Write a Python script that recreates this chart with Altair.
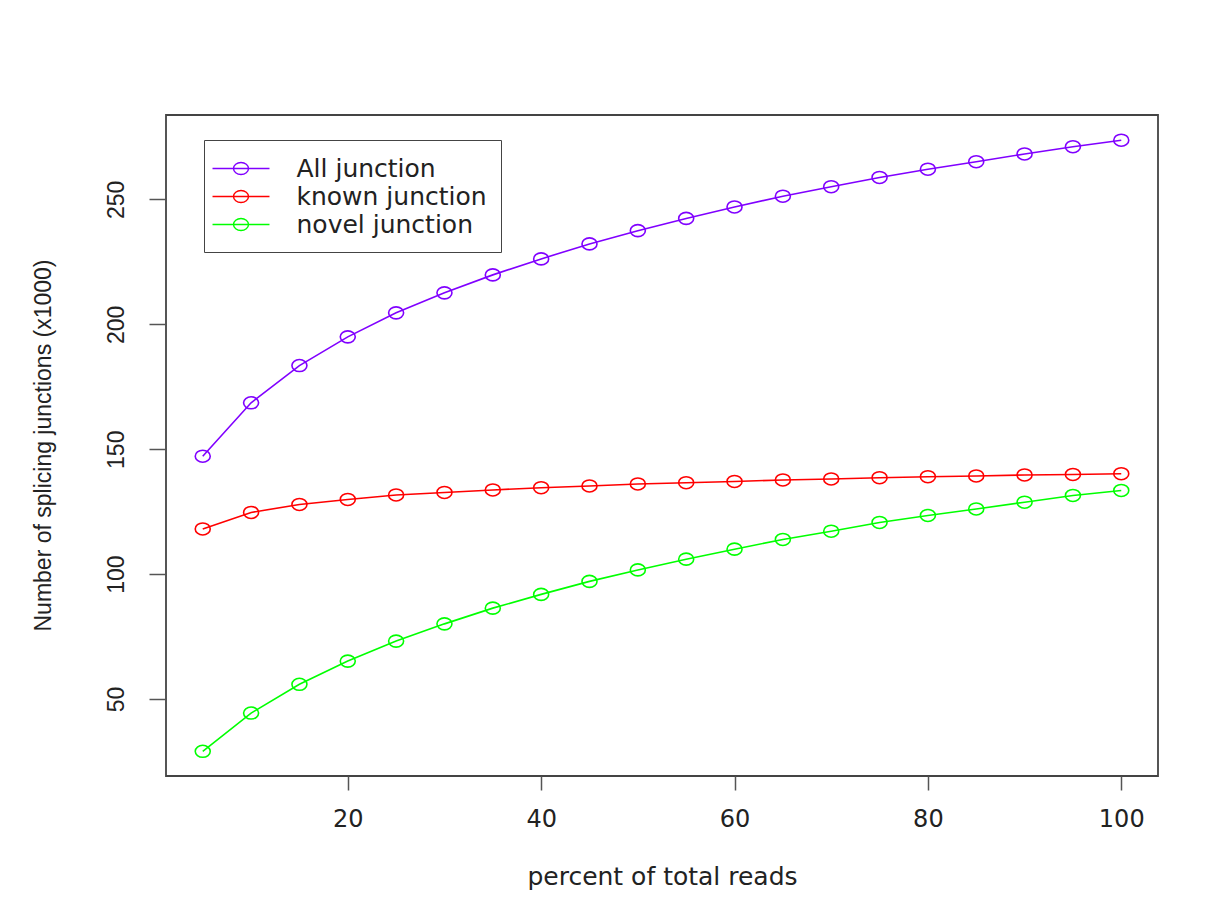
import altair as alt
import pandas as pd

# Data (values in thousands)
percent = [5, 10, 15, 20, 25, 30, 35, 40, 45, 50, 55, 60, 65, 70, 75, 80, 85, 90, 95, 100]
all_junction = [147.2, 168.6, 183.5, 195.0, 204.6, 212.6, 219.8, 226.2, 232.2, 237.5,
                 242.4, 247.0, 251.3, 255.1, 258.8, 262.1, 265.1, 268.2, 271.1, 273.7]
known_junction = [118.1, 124.7, 127.9, 129.9, 131.7, 132.7, 133.7, 134.6, 135.3, 136.1,
                   136.6, 137.1, 137.7, 138.1, 138.6, 139.0, 139.3, 139.7, 139.9, 140.2]
novel_junction = [29.1, 44.4, 55.9, 65.2, 73.2, 80.1, 86.4, 91.9, 97.1, 101.7,
                  106.0, 110.0, 113.9, 117.2, 120.7, 123.5, 126.1, 128.8, 131.5, 133.5]
series_names = ["All junction", "known junction", "novel junction"]
series_colors = ["#8000FF", "#FF0000", "#00FF00"]
x_ticks = [20, 40, 60, 80, 100]
y_ticks = [50, 100, 150, 200, 250]

rows = []
for name, vals in zip(series_names, [all_junction, known_junction, novel_junction]):
    for p, v in zip(percent, vals):
        rows.append({"percent": p, "value": v, "series": name})
df = pd.DataFrame(rows)

ellipse = "M -1.25 0 A 1.25 1 0 1 1 1.25 0 A 1.25 1 0 1 1 -1.25 0 Z"
legend_symbol = ("M -2.11 0 L 2.11 0 M -0.556 0 A 0.556 0.444 0 1 1 0.556 0 "
                 "A 0.556 0.444 0 1 1 -0.556 0 Z")

x_enc = alt.X("percent:Q",
              scale=alt.Scale(domain=[1.2, 103.8], nice=False, zero=False),
              axis=alt.Axis(values=x_ticks, title="percent of total reads",
                            domain=False, grid=False, tickSize=14, tickWidth=1.5,
                            tickColor="#555555", labelFont="DejaVu Sans",
                            labelFontSize=24, labelColor="#222222", labelPadding=17,
                            labelFlush=False,
                            titleFont="DejaVu Sans", titleFontSize=25,
                            titleFontWeight="normal", titleColor="#222222",
                            titleBaseline="middle", titleY=100))
y_enc = alt.Y("value:Q",
              scale=alt.Scale(domain=[19.2, 283.8], nice=False, zero=False),
              axis=alt.Axis(values=y_ticks, title="Number of splicing junctions (x1000)",
                            domain=False, grid=False, tickSize=17, tickWidth=1.5,
                            tickColor="#555555", labelFont="Liberation Sans",
                            labelFontSize=23, labelColor="#222222", labelAngle=270,
                            labelPadding=21, labelFlush=False,
                            titleFont="Liberation Sans", titleFontSize=23,
                            titleFontWeight="normal", titleColor="#222222",
                            titleBaseline="middle", titleX=-123, titleY=330,
                            titleAngle=270, titleAlign="center"))
color_enc = alt.Color("series:N",
                      scale=alt.Scale(domain=series_names, range=series_colors),
                      legend=alt.Legend(title=None, orient="none", legendX=38, legendY=25,
                                        symbolType=legend_symbol, symbolSize=729,
                                        symbolStrokeWidth=1.4, symbolFillColor="transparent",
                                        symbolOffset=8.5,
                                        labelFont="DejaVu Sans", labelFontSize=25,
                                        labelColor="#222222", labelOffset=41,
                                        labelLimit=400, rowPadding=0, padding=14,
                                        strokeColor="#444444", fillColor="white"))

base = alt.Chart(df).encode(x=x_enc, y=y_enc, color=color_enc)
lines = base.mark_line(strokeWidth=1.6)
points = base.mark_point(shape=ellipse, size=144, filled=False, strokeWidth=1.6, opacity=1)

chart = (lines + points).properties(
    width=992, height=661,
    autosize=alt.AutoSizeParams(type="none"),
    padding={"left": 158, "top": 107, "right": 55, "bottom": 120},
).configure(background="white").configure_view(stroke="#444444", strokeWidth=1.8)

chart.save("out.html", embed_options={"renderer": "svg", "actions": False})
